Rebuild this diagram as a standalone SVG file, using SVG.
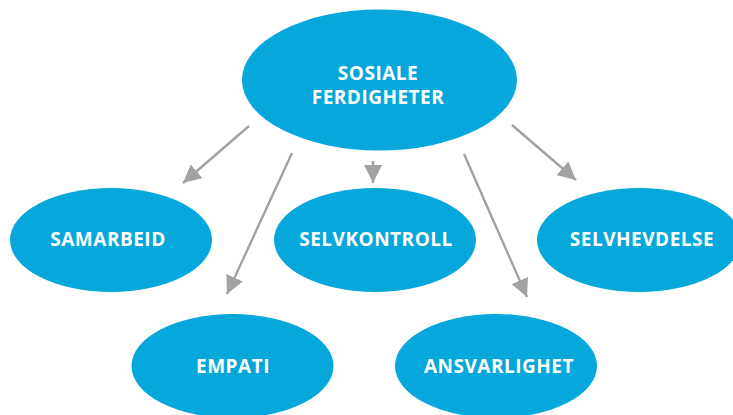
<svg xmlns="http://www.w3.org/2000/svg" width="733" height="415" viewBox="0 0 733 415">
<style>
.node{fill:#06a7da;}
.lbl{fill:#ffffff;font-family:"Open Sans","Liberation Sans",sans-serif;font-weight:700;font-size:19px;letter-spacing:0.5px;text-anchor:middle;}
.conn{stroke:#a2a2a4;stroke-width:2.4;fill:none;marker-end:url(#ah);}
</style>
<defs>
<marker id="ah" markerUnits="userSpaceOnUse" markerWidth="18" markerHeight="18" viewBox="0 0 16 16" refX="16" refY="8" orient="auto">
<path d="M0,0 L16,8 L0,16 Z" fill="#a2a2a4"/>
</marker>
</defs>
<rect width="733" height="415" fill="#ffffff"/>
<g id="connectors">
<line class="conn" x1="249" y1="126" x2="183" y2="183"/>
<line class="conn" x1="292" y1="153" x2="227" y2="294"/>
<line class="conn" x1="373" y1="161" x2="373" y2="183"/>
<line class="conn" x1="464" y1="154" x2="527" y2="297"/>
<line class="conn" x1="512" y1="125" x2="576" y2="180"/>
</g>
<g id="sosiale">
<ellipse class="node" cx="379.5" cy="80" rx="137.5" ry="70.5"/>
<text class="lbl" x="378" y="80">SOSIALE</text>
<text class="lbl" x="378" y="104">FERDIGHETER</text>
</g>
<g id="samarbeid">
<ellipse class="node" cx="111" cy="240" rx="101" ry="52"/>
<text class="lbl" x="108" y="246">SAMARBEID</text>
</g>
<g id="selvkontroll">
<ellipse class="node" cx="375" cy="240" rx="101" ry="52"/>
<text class="lbl" x="376" y="246">SELVKONTROLL</text>
</g>
<g id="selvhevdelse">
<ellipse class="node" cx="639" cy="240" rx="102" ry="52"/>
<text class="lbl" x="642" y="246">SELVHEVDELSE</text>
</g>
<g id="empati">
<ellipse class="node" cx="232.5" cy="366" rx="101" ry="52"/>
<text class="lbl" x="233" y="373">EMPATI</text>
</g>
<g id="ansvarlighet">
<ellipse class="node" cx="496" cy="366" rx="101" ry="52"/>
<text class="lbl" x="499" y="373">ANSVARLIGHET</text>
</g>
</svg>
